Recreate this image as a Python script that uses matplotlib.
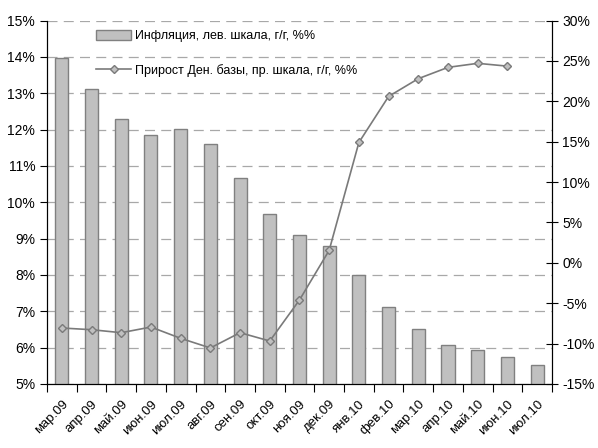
import matplotlib
matplotlib.use("Agg")
import matplotlib.pyplot as plt
import numpy as np
from matplotlib.patches import Patch
from matplotlib.lines import Line2D

plt.rcParams['font.family'] = ['Liberation Sans']
plt.rcParams['axes.unicode_minus'] = False

months = ['мар.09', 'апр.09', 'май.09', 'июн.09', 'июл.09', 'авг.09', 'сен.09',
          'окт.09', 'ноя.09', 'дек.09', 'янв.10', 'фев.10', 'мар.10', 'апр.10',
          'май.10', 'июн.10', 'июл.10']
inflation = [13.96, 13.11, 12.29, 11.85, 12.01, 11.61, 10.66, 9.68, 9.11, 8.79,
             8.00, 7.13, 6.50, 6.06, 5.94, 5.75, 5.51]
base_growth = [-8.07, -8.28, -8.65, -7.95, -9.35, -10.54, -8.65, -9.68, -4.6, 1.55,
               14.9, 20.6, 22.8, 24.2, 24.7, 24.35]

label_infl = 'Инфляция, лев. шкала, г/г, %%'
label_base = 'Прирост Ден. базы, пр. шкала, г/г, %%'

fig = plt.figure(figsize=(5.98, 4.48), dpi=100)
ax = fig.add_axes([0.0786, 0.1429, 0.8444, 0.8113])
x = np.arange(len(months))

ax.bar(x, inflation, width=0.44, color='#C0C0C0', edgecolor='#808080', linewidth=1.0, zorder=2)
ax.set_ylim(5, 15)
ax.set_xlim(-0.5, len(months) - 0.5)
ax.set_yticks(np.arange(5, 16, 1))
ax.set_yticklabels(['%d%%' % v for v in range(5, 16)], fontsize=10)
ax.yaxis.grid(True, color='#A8A8A8', linestyle=(0, (8, 5)), linewidth=0.9)
ax.set_axisbelow(True)

# major ticks mark the category borders, minor ones carry the labels
ax.set_xticks(np.arange(len(months) + 1) - 0.5)
ax.set_xticklabels([])
ax.set_xticks(x, minor=True)
ax.set_xticklabels(months, minor=True, rotation=45, ha='right', rotation_mode='anchor', fontsize=9.5)
ax.tick_params(axis='x', which='major', length=6, direction='out')
ax.tick_params(axis='x', which='minor', length=0, pad=10)
ax.tick_params(axis='y', length=5, direction='out')
ax.spines['top'].set_visible(False)

ax2 = ax.twinx()
ax2.plot(np.arange(len(base_growth)), base_growth, color='#7A7A7A', linewidth=1.2,
         marker='D', markersize=4, markerfacecolor='#C0C0C0', markeredgecolor='#7A7A7A')
ax2.set_ylim(-15, 30)
ax2.set_yticks(np.arange(-15, 31, 5))
ax2.set_yticklabels(['%d%%' % v for v in range(-15, 31, 5)], fontsize=10)
ax2.tick_params(axis='y', length=8, direction='inout')
ax2.spines['top'].set_visible(False)

handles = [Patch(facecolor='#C0C0C0', edgecolor='#808080', label=label_infl),
           Line2D([0], [0], color='#7A7A7A', linewidth=1.2, marker='D', markersize=4,
                  markerfacecolor='#C0C0C0', markeredgecolor='#7A7A7A', label=label_base)]
ax2.legend(handles=handles, loc='upper left', bbox_to_anchor=(0.075, 1.005), frameon=False,
           fontsize=9, handlelength=2.8, handleheight=0.8, labelspacing=1.75, handletextpad=0.3)

fig.savefig('out.png', dpi=100)
